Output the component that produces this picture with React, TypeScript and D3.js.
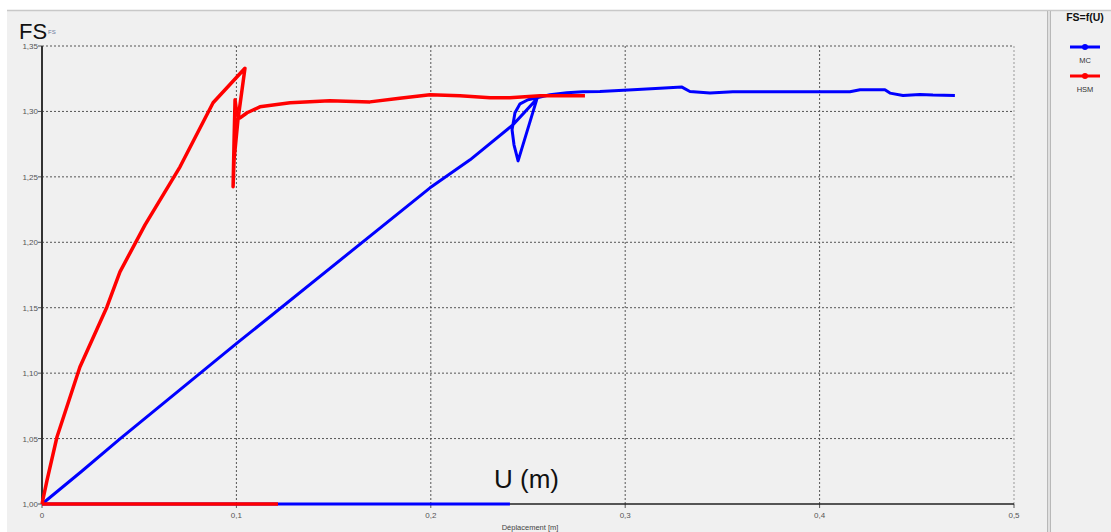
import React from "react";
import * as d3 from "d3";

const xTicks = [0, 0.1, 0.2, 0.3, 0.4, 0.5];
const yTicks = [1.0, 1.05, 1.1, 1.15, 1.2, 1.25, 1.3, 1.35];

const mcX = [0, 0.0206, 0.0401, 0.0998, 0.1996, 0.2202, 0.2423, 0.2546, 0.2449, 0.2428, 0.2418, 0.2433, 0.2459, 0.25, 0.2546, 0.2613, 0.27, 0.2783, 0.287, 0.304, 0.3179, 0.3292, 0.3333, 0.3436, 0.3554, 0.39, 0.4156, 0.4208, 0.4336, 0.4362, 0.4429, 0.4516, 0.4583, 0.4696];
const mcY = [1.0, 1.0252, 1.0497, 1.1223, 1.2416, 1.263, 1.2898, 1.3096, 1.2622, 1.2745, 1.286, 1.299, 1.3058, 1.3089, 1.3104, 1.3127, 1.3142, 1.315, 1.3152, 1.3165, 1.3178, 1.3186, 1.3152, 1.314, 1.315, 1.315, 1.315, 1.3165, 1.3165, 1.314, 1.3122, 1.313, 1.3125, 1.3122];
const mcBaseX = [0, 0.2407];
const mcBaseY = [1.0, 1.0];

const hsmX = [0, 0.0026, 0.0077, 0.0195, 0.0334, 0.0401, 0.053, 0.071, 0.088, 0.1044, 0.1008, 0.0988, 0.0983, 0.0988, 0.0993, 0.1003, 0.1019, 0.1055, 0.1121, 0.1276, 0.148, 0.1687, 0.184, 0.1996, 0.215, 0.2305, 0.2407, 0.2562, 0.2793];
const hsmY = [1.0, 1.0183, 1.0512, 1.1047, 1.1506, 1.1774, 1.2133, 1.2577, 1.3066, 1.333, 1.2936, 1.263, 1.2424, 1.278, 1.3089, 1.2974, 1.295, 1.299, 1.3035, 1.3066, 1.3081, 1.3073, 1.31, 1.3127, 1.312, 1.3104, 1.3104, 1.3119, 1.3119];
const hsmBaseX = [0, 0.1214];
const hsmBaseY = [1.0, 1.0];

const fmt = (v: number, d: number) => (v === 0 ? "0" : v.toFixed(d).replace(".", ","));

export default function App() {
  const W = 1111, H = 532;
  const x = d3.scaleLinear().domain([0, 0.5]).range([42, 1014]);
  const y = d3.scaleLinear().domain([1.0, 1.35]).range([504, 46]);
  const line = d3.line<[number, number]>().x((d) => x(d[0])).y((d) => y(d[1]));
  const zip = (a: number[], b: number[]) => a.map((v, i) => [v, b[i]] as [number, number]);

  const font = "'Liberation Sans', Arial, sans-serif";
  return (
    <svg width={W} height={H} style={{ position: "fixed", left: 0, top: 0 }} fontFamily={font}>
      <rect x={0} y={0} width={W} height={H} fill="#ffffff" />
      <rect x={7} y={10} width={W - 7} height={H - 10} fill="#f0f0f0" />
      <line x1={7} x2={W} y1={10.5} y2={10.5} stroke="#c8c8c8" strokeWidth={1.5} />
      <line x1={1047.5} x2={1047.5} y1={11} y2={H} stroke="#b8b8b8" strokeWidth={1} />
      <line x1={1050.5} x2={1050.5} y1={11} y2={H} stroke="#b8b8b8" strokeWidth={1} />
      <rect x={1048} y={11} width={2} height={H} fill="#e0e0e0" />

      {yTicks.map((t) => (
        <g key={"y" + t}>
          {t > 1.0 && (
            <line x1={42} x2={1014} y1={y(t)} y2={y(t)} stroke="#555" strokeWidth={1} strokeDasharray="2,2" />
          )}
          <line x1={38} x2={42} y1={y(t)} y2={y(t)} stroke="#555" />
          <text x={38} y={y(t) + 3} fontSize={8} fill="#555" textAnchor="end">{fmt(t, 2)}</text>
        </g>
      ))}
      {xTicks.map((t) => (
        <g key={"x" + t}>
          {t > 0 && (
            <line x1={x(t)} x2={x(t)} y1={46} y2={504} stroke={t === 0.5 ? "#999" : "#555"} strokeWidth={1} strokeDasharray="2,2" />
          )}
          <line x1={x(t)} x2={x(t)} y1={504} y2={508} stroke="#555" />
          <text x={x(t)} y={518} fontSize={8} fill="#555" textAnchor="middle">{fmt(t, 1)}</text>
        </g>
      ))}
      <line x1={42} x2={1014} y1={504} y2={504} stroke="#222" strokeWidth={1.5} />
      <line x1={42} x2={42} y1={46} y2={504} stroke="#333" strokeWidth={2} />

      <path d={line(zip(mcX, mcY)) || ""} fill="none" stroke="#0000ff" strokeWidth={3} strokeLinejoin="round" />
      <path d={line(zip(mcBaseX, mcBaseY)) || ""} fill="none" stroke="#0000ff" strokeWidth={3} />
      <path d={line(zip(hsmX, hsmY)) || ""} fill="none" stroke="#ff0000" strokeWidth={3.5} strokeLinejoin="round" />
      <path d={line(zip(hsmBaseX, hsmBaseY)) || ""} fill="none" stroke="#ff0000" strokeWidth={3.5} />

      <text x={19} y={39} fontSize={22} fill="#111">FS</text>
      <text x={48} y={34} fontSize={6} fill="#6a7aa0">FS</text>
      <text x={494} y={488} fontSize={26} fill="#111">U (m)</text>
      <text x={530} y={530} fontSize={7.5} fill="#444" textAnchor="middle">Déplacement [m]</text>

      <text x={1085} y={21} fontSize={10.5} fontWeight="bold" fill="#111" textAnchor="middle">FS=f(U)</text>
      <line x1={1070} x2={1100} y1={47} y2={47} stroke="#0000ff" strokeWidth={3} />
      <circle cx={1085} cy={47} r={3} fill="#0000ff" />
      <text x={1085} y={63} fontSize={7.5} fill="#333" textAnchor="middle">MC</text>
      <line x1={1070} x2={1100} y1={76} y2={76} stroke="#ff0000" strokeWidth={3} />
      <circle cx={1085} cy={76} r={3} fill="#ff0000" />
      <text x={1085} y={92} fontSize={7.5} fill="#333" textAnchor="middle">HSM</text>
    </svg>
  );
}
